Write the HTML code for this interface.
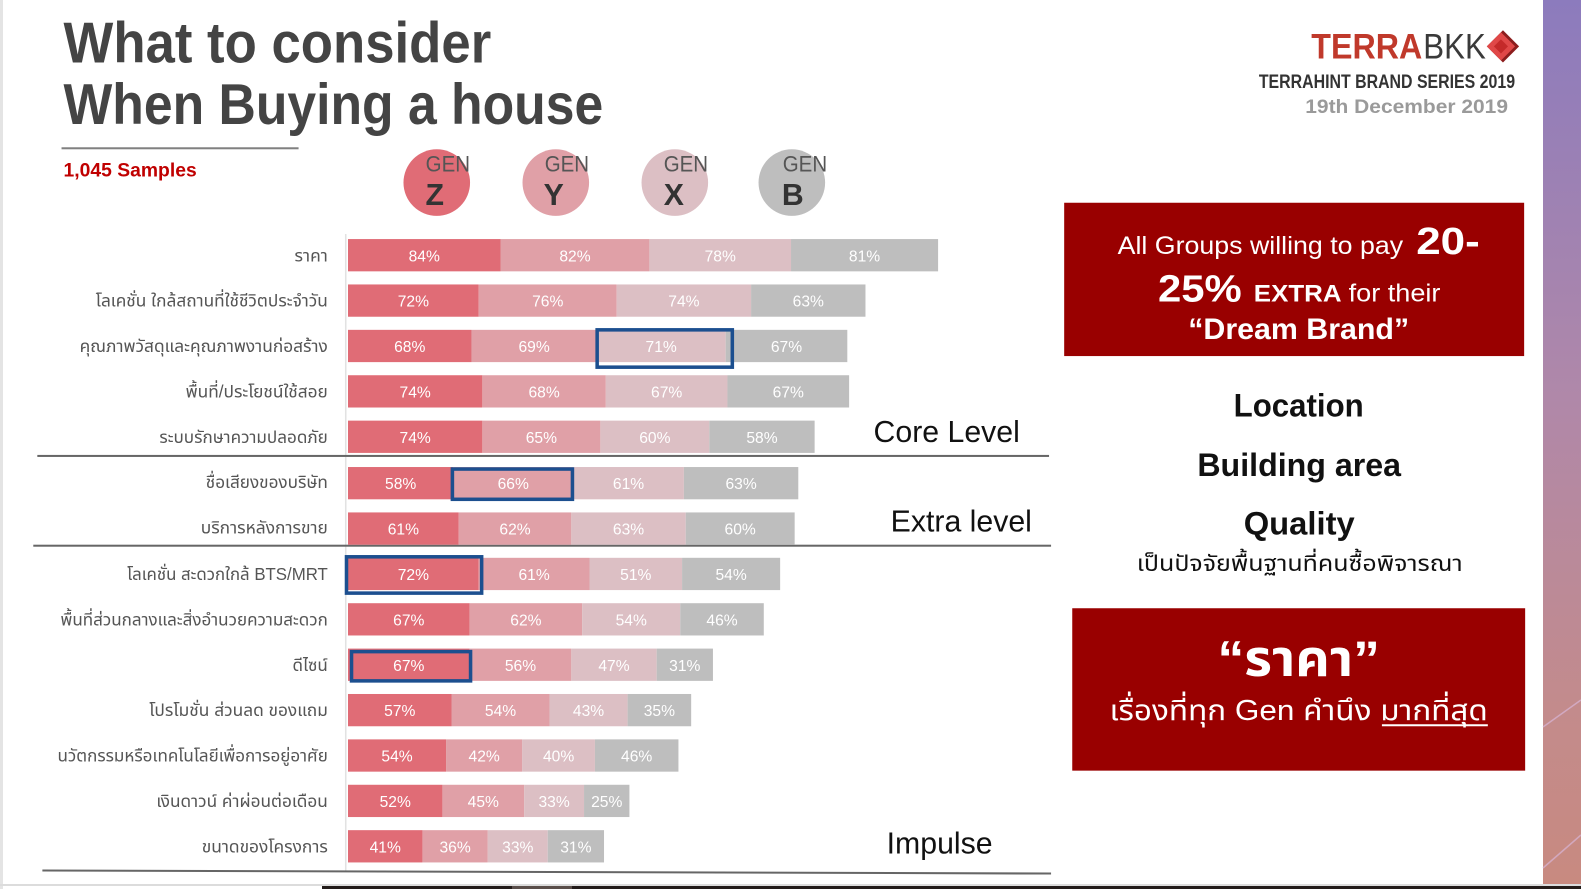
<!DOCTYPE html>
<html><head><meta charset="utf-8"><style>
html,body{margin:0;padding:0;background:#fff;}
svg{display:block;}
.t{font-family:"Liberation Sans","Noto Sans Thai","Loma","Garuda","Tlwg Typo","DejaVu Sans","Noto Sans CJK SC",sans-serif;}
.p{font-family:"Liberation Sans",sans-serif;font-size:15.5px;fill:#fff;text-anchor:middle;}
.lb{font-family:"Liberation Sans","Noto Sans Thai","Loma","Garuda","Tlwg Typo","DejaVu Sans",sans-serif;font-size:17px;fill:#555;text-anchor:end;}
</style></head><body>
<svg width="1581" height="889" viewBox="0 0 1581 889" xmlns="http://www.w3.org/2000/svg">
<defs>
<linearGradient id="strip" x1="0" y1="0" x2="0" y2="1">
<stop offset="0" stop-color="#8c7bbd"/>
<stop offset="0.45" stop-color="#b088a9"/>
<stop offset="0.8" stop-color="#c38b8c"/>
<stop offset="1" stop-color="#c88a80"/>
</linearGradient>
</defs>
<rect x="0" y="0" width="1581" height="889" fill="#fff"/>
<rect x="0" y="0" width="3" height="889" fill="#e4e4e4"/>
<!-- right strip -->
<rect x="1543" y="0" width="38" height="885" fill="url(#strip)"/>
<line x1="1543" y1="727" x2="1581" y2="700" stroke="#d9b6d8" stroke-width="1.5" opacity="0.7"/>
<line x1="1543" y1="868" x2="1581" y2="835" stroke="#d9b6d8" stroke-width="1.5" opacity="0.7"/>
<!-- bottom -->
<rect x="0" y="884" width="1581" height="2" fill="#dcdcdc"/>
<rect x="322" y="886" width="1259" height="3" fill="#231c1a"/>
<rect x="512" y="886" width="60" height="3" fill="#5a4e4a"/>

<g transform="scale(1.0087)">
<!-- title -->
<text class="t" x="63" y="62" font-size="57" font-weight="bold" fill="#444" textLength="424" lengthAdjust="spacingAndGlyphs">What to consider</text>
<text class="t" x="63" y="123" font-size="57" font-weight="bold" fill="#444" textLength="535" lengthAdjust="spacingAndGlyphs">When Buying a house</text>
<rect x="61" y="146" width="235" height="2" fill="#808080"/>
<text class="t" x="63" y="175" font-size="19" font-weight="bold" fill="#c00000" textLength="132" lengthAdjust="spacingAndGlyphs">1,045 Samples</text>

<!-- GEN circles -->
<circle cx="433" cy="181" r="33" fill="#e06c76"/>
<circle cx="551" cy="181" r="33" fill="#e0a0a7"/>
<circle cx="669" cy="181" r="33" fill="#dcbfc4"/>
<circle cx="785" cy="181" r="33" fill="#bebebe"/>
<g class="t" font-size="22" fill="#555">
<text x="422" y="170" textLength="44" lengthAdjust="spacingAndGlyphs">GEN</text>
<text x="540" y="170" textLength="44" lengthAdjust="spacingAndGlyphs">GEN</text>
<text x="658" y="170" textLength="44" lengthAdjust="spacingAndGlyphs">GEN</text>
<text x="776" y="170" textLength="44" lengthAdjust="spacingAndGlyphs">GEN</text>
</g>
<g class="t" font-size="30" font-weight="bold" fill="#333" text-anchor="middle">
<text x="431" y="203">Z</text>
<text x="549" y="203">Y</text>
<text x="668" y="203">X</text>
<text x="786" y="203">B</text>
</g>

<!-- axis -->
<rect x="342" y="232" width="1.5" height="632" fill="#e2e2e2"/>

<!-- separators -->
<rect x="37" y="451" width="1003" height="2" fill="#666"/>
<rect x="33" y="540" width="1009" height="2" fill="#666"/>
<line x1="42" y1="863" x2="1042" y2="866" stroke="#666" stroke-width="2"/>

<!-- level labels -->
<g class="t" font-size="30" fill="#111">
<text x="866" y="438">Core Level</text>
<text x="883" y="527">Extra level</text>
<text x="879" y="846">Impulse</text>
</g>

<!-- row labels -->
<text class="lb" x="325" y="259" textLength="33" lengthAdjust="spacingAndGlyphs">ราคา</text>
<text class="lb" x="325" y="304" textLength="230" lengthAdjust="spacingAndGlyphs">โลเคชั่น ใกล้สถานที่ใช้ชีวิตประจำวัน</text>
<text class="lb" x="325" y="349" textLength="246" lengthAdjust="spacingAndGlyphs">คุณภาพวัสดุและคุณภาพงานก่อสร้าง</text>
<text class="lb" x="325" y="394" textLength="141" lengthAdjust="spacingAndGlyphs">พื้นที่/ประโยชน์ใช้สอย</text>
<text class="lb" x="325" y="439" textLength="167" lengthAdjust="spacingAndGlyphs">ระบบรักษาความปลอดภัย</text>
<text class="lb" x="325" y="484" textLength="121" lengthAdjust="spacingAndGlyphs">ชื่อเสียงของบริษัท</text>
<text class="lb" x="325" y="529" textLength="126" lengthAdjust="spacingAndGlyphs">บริการหลังการขาย</text>
<text class="lb" x="325" y="575" textLength="199" lengthAdjust="spacingAndGlyphs">โลเคชั่น สะดวกใกล้ BTS/MRT</text>
<text class="lb" x="325" y="620" textLength="265" lengthAdjust="spacingAndGlyphs">พื้นที่ส่วนกลางและสิ่งอำนวยความสะดวก</text>
<text class="lb" x="325" y="665" textLength="35" lengthAdjust="spacingAndGlyphs">ดีไซน์</text>
<text class="lb" x="325" y="710" textLength="177" lengthAdjust="spacingAndGlyphs">โปรโมชั่น ส่วนลด ของแถม</text>
<text class="lb" x="325" y="755" textLength="268" lengthAdjust="spacingAndGlyphs">นวัตกรรมหรือเทคโนโลยีเพื่อการอยู่อาศัย</text>
<text class="lb" x="325" y="800" textLength="170" lengthAdjust="spacingAndGlyphs">เงินดาวน์ ค่าผ่อนต่อเดือน</text>
<text class="lb" x="325" y="845" textLength="125" lengthAdjust="spacingAndGlyphs">ขนาดของโครงการ</text>

<!-- bars -->
<g>
<rect x="345" y="237" width="151.2" height="32" fill="#e06c76"/>
<rect x="496.2" y="237" width="147.6" height="32" fill="#e0a0a7"/>
<rect x="643.8" y="237" width="140.4" height="32" fill="#dcbfc4"/>
<rect x="784.2" y="237" width="145.8" height="32" fill="#bebebe"/>
<rect x="345" y="282" width="129.6" height="32" fill="#e06c76"/>
<rect x="474.6" y="282" width="136.8" height="32" fill="#e0a0a7"/>
<rect x="611.4" y="282" width="133.2" height="32" fill="#dcbfc4"/>
<rect x="744.6" y="282" width="113.4" height="32" fill="#bebebe"/>
<rect x="345" y="327" width="122.4" height="32" fill="#e06c76"/>
<rect x="467.4" y="327" width="124.2" height="32" fill="#e0a0a7"/>
<rect x="591.6" y="327" width="127.8" height="32" fill="#dcbfc4"/>
<rect x="719.4" y="327" width="120.6" height="32" fill="#bebebe"/>
<rect x="345" y="372" width="133.2" height="32" fill="#e06c76"/>
<rect x="478.2" y="372" width="122.4" height="32" fill="#e0a0a7"/>
<rect x="600.6" y="372" width="120.6" height="32" fill="#dcbfc4"/>
<rect x="721.2" y="372" width="120.6" height="32" fill="#bebebe"/>
<rect x="345" y="417" width="133.2" height="32" fill="#e06c76"/>
<rect x="478.2" y="417" width="117" height="32" fill="#e0a0a7"/>
<rect x="595.2" y="417" width="108" height="32" fill="#dcbfc4"/>
<rect x="703.2" y="417" width="104.4" height="32" fill="#bebebe"/>
<rect x="345" y="463" width="104.4" height="32" fill="#e06c76"/>
<rect x="449.4" y="463" width="118.8" height="32" fill="#e0a0a7"/>
<rect x="568.2" y="463" width="109.8" height="32" fill="#dcbfc4"/>
<rect x="678" y="463" width="113.4" height="32" fill="#bebebe"/>
<rect x="345" y="508" width="109.8" height="32" fill="#e06c76"/>
<rect x="454.8" y="508" width="111.6" height="32" fill="#e0a0a7"/>
<rect x="566.4" y="508" width="113.4" height="32" fill="#dcbfc4"/>
<rect x="679.8" y="508" width="108" height="32" fill="#bebebe"/>
<rect x="345" y="553" width="129.6" height="32" fill="#e06c76"/>
<rect x="474.6" y="553" width="109.8" height="32" fill="#e0a0a7"/>
<rect x="584.4" y="553" width="91.8" height="32" fill="#dcbfc4"/>
<rect x="676.2" y="553" width="97.2" height="32" fill="#bebebe"/>
<rect x="345" y="598" width="120.6" height="32" fill="#e06c76"/>
<rect x="465.6" y="598" width="111.6" height="32" fill="#e0a0a7"/>
<rect x="577.2" y="598" width="97.2" height="32" fill="#dcbfc4"/>
<rect x="674.4" y="598" width="82.8" height="32" fill="#bebebe"/>
<rect x="345" y="643" width="120.6" height="32" fill="#e06c76"/>
<rect x="465.6" y="643" width="100.8" height="32" fill="#e0a0a7"/>
<rect x="566.4" y="643" width="84.6" height="32" fill="#dcbfc4"/>
<rect x="651" y="643" width="55.8" height="32" fill="#bebebe"/>
<rect x="345" y="688" width="102.6" height="32" fill="#e06c76"/>
<rect x="447.6" y="688" width="97.2" height="32" fill="#e0a0a7"/>
<rect x="544.8" y="688" width="77.4" height="32" fill="#dcbfc4"/>
<rect x="622.2" y="688" width="63" height="32" fill="#bebebe"/>
<rect x="345" y="733" width="97.2" height="32" fill="#e06c76"/>
<rect x="442.2" y="733" width="75.6" height="32" fill="#e0a0a7"/>
<rect x="517.8" y="733" width="72" height="32" fill="#dcbfc4"/>
<rect x="589.8" y="733" width="82.8" height="32" fill="#bebebe"/>
<rect x="345" y="778" width="93.6" height="32" fill="#e06c76"/>
<rect x="438.6" y="778" width="81" height="32" fill="#e0a0a7"/>
<rect x="519.6" y="778" width="59.4" height="32" fill="#dcbfc4"/>
<rect x="579" y="778" width="45" height="32" fill="#bebebe"/>
<rect x="345" y="823" width="73.8" height="32" fill="#e06c76"/>
<rect x="418.8" y="823" width="64.8" height="32" fill="#e0a0a7"/>
<rect x="483.6" y="823" width="59.4" height="32" fill="#dcbfc4"/>
<rect x="543" y="823" width="55.8" height="32" fill="#bebebe"/>
</g>

<!-- percent labels -->
<g class="p">
<text x="420.6" y="259">84%</text><text x="570" y="259">82%</text><text x="714" y="259">78%</text><text x="857.1" y="259">81%</text>
<text x="409.8" y="304">72%</text><text x="543" y="304">76%</text><text x="678" y="304">74%</text><text x="801.3" y="304">63%</text>
<text x="406.2" y="349">68%</text><text x="529.5" y="349">69%</text><text x="655.5" y="349">71%</text><text x="779.7" y="349">67%</text>
<text x="411.6" y="394">74%</text><text x="539.4" y="394">68%</text><text x="660.9" y="394">67%</text><text x="781.5" y="394">67%</text>
<text x="411.6" y="439">74%</text><text x="536.7" y="439">65%</text><text x="649.2" y="439">60%</text><text x="755.4" y="439">58%</text>
<text x="397.2" y="485">58%</text><text x="508.8" y="485">66%</text><text x="623.1" y="485">61%</text><text x="734.7" y="485">63%</text>
<text x="399.9" y="530">61%</text><text x="510.6" y="530">62%</text><text x="623.1" y="530">63%</text><text x="733.8" y="530">60%</text>
<text x="409.8" y="575">72%</text><text x="529.5" y="575">61%</text><text x="630.3" y="575">51%</text><text x="724.8" y="575">54%</text>
<text x="405.3" y="620">67%</text><text x="521.4" y="620">62%</text><text x="625.8" y="620">54%</text><text x="715.8" y="620">46%</text>
<text x="405.3" y="665">67%</text><text x="516" y="665">56%</text><text x="608.7" y="665">47%</text><text x="678.9" y="665">31%</text>
<text x="396.3" y="710">57%</text><text x="496.2" y="710">54%</text><text x="583.5" y="710">43%</text><text x="653.7" y="710">35%</text>
<text x="393.6" y="755">54%</text><text x="480" y="755">42%</text><text x="553.8" y="755">40%</text><text x="631.2" y="755">46%</text>
<text x="391.8" y="800">52%</text><text x="479.1" y="800">45%</text><text x="549.3" y="800">33%</text><text x="601.5" y="800">25%</text>
<text x="381.9" y="845">41%</text><text x="451.2" y="845">36%</text><text x="513.3" y="845">33%</text><text x="570.9" y="845">31%</text>
</g>

<!-- highlight boxes -->
<g fill="none" stroke="#1c4f8f" stroke-width="3.5">
<rect x="592" y="327" width="134" height="37"/>
<rect x="448.5" y="465" width="119" height="30"/>
<rect x="343.5" y="552" width="134" height="36"/>
<rect x="348.5" y="646" width="118" height="29"/>
</g>

<!-- logo -->
<text class="t" x="1300" y="58" font-size="35" font-weight="bold" fill="#c0392b" textLength="110" lengthAdjust="spacingAndGlyphs">TERRA</text>
<text class="t" x="1411" y="58" font-size="35" fill="#3a3a3a" textLength="62" lengthAdjust="spacingAndGlyphs">BKK</text>
<polygon points="1490,30 1506,46 1490,62 1474,46" fill="#8c1d1d"/>
<polygon points="1488,32 1502,46 1488,60 1474,46" fill="#e04848"/>
<polygon points="1488,39 1495,46 1488,53 1481,46" fill="#c42a2a"/>
<text class="t" x="1248" y="87" font-size="19" font-weight="bold" fill="#333" textLength="254" lengthAdjust="spacingAndGlyphs">TERRAHINT BRAND SERIES 2019</text>
<text class="t" x="1294" y="112" font-size="19" font-weight="bold" fill="#9a9a9a" textLength="201" lengthAdjust="spacingAndGlyphs">19th December  2019</text>

<!-- right panel box 1 -->
<rect x="1055" y="201" width="456" height="152" fill="#990000"/>
<g class="t" fill="#fff">
<text x="1108" y="252" font-size="25" textLength="283" lengthAdjust="spacingAndGlyphs">All Groups willing to pay</text>
<text x="1404" y="252" font-size="38" font-weight="bold" textLength="63" lengthAdjust="spacingAndGlyphs">20-</text>
<text x="1148" y="299" font-size="38" font-weight="bold" textLength="83" lengthAdjust="spacingAndGlyphs">25%</text>
<text x="1243" y="299" font-size="24" font-weight="bold" textLength="87" lengthAdjust="spacingAndGlyphs">EXTRA</text>
<text x="1337" y="299" font-size="25" textLength="91" lengthAdjust="spacingAndGlyphs">for their</text>
<text x="1178" y="336" font-size="29" font-weight="bold" textLength="219" lengthAdjust="spacingAndGlyphs">“Dream Brand”</text>
</g>

<g class="t" fill="#111" font-weight="bold" font-size="32">
<text x="1223" y="413" textLength="129" lengthAdjust="spacingAndGlyphs">Location</text>
<text x="1187" y="472" textLength="202" lengthAdjust="spacingAndGlyphs">Building area</text>
<text x="1233" y="530" textLength="110" lengthAdjust="spacingAndGlyphs">Quality</text>
</g>
<text class="t" x="1127" y="566" font-size="22" fill="#111" textLength="323" lengthAdjust="spacingAndGlyphs">เป็นปัจจัยพื้นฐานที่คนซื้อพิจารณา</text>

<!-- right panel box 2 -->
<rect x="1063" y="603" width="449" height="161" fill="#990000"/>
<text class="t" x="1207" y="670" font-size="50" font-weight="bold" fill="#fff" textLength="161" lengthAdjust="spacingAndGlyphs">“ราคา”</text>
<text class="t" x="1100" y="714" font-size="28" fill="#fff" textLength="375" lengthAdjust="spacingAndGlyphs">เรื่องที่ทุก Gen คำนึง มากที่สุด</text>
<rect x="1370" y="718" width="105" height="2" fill="#fff"/>
</g>
</svg>
</body></html>
